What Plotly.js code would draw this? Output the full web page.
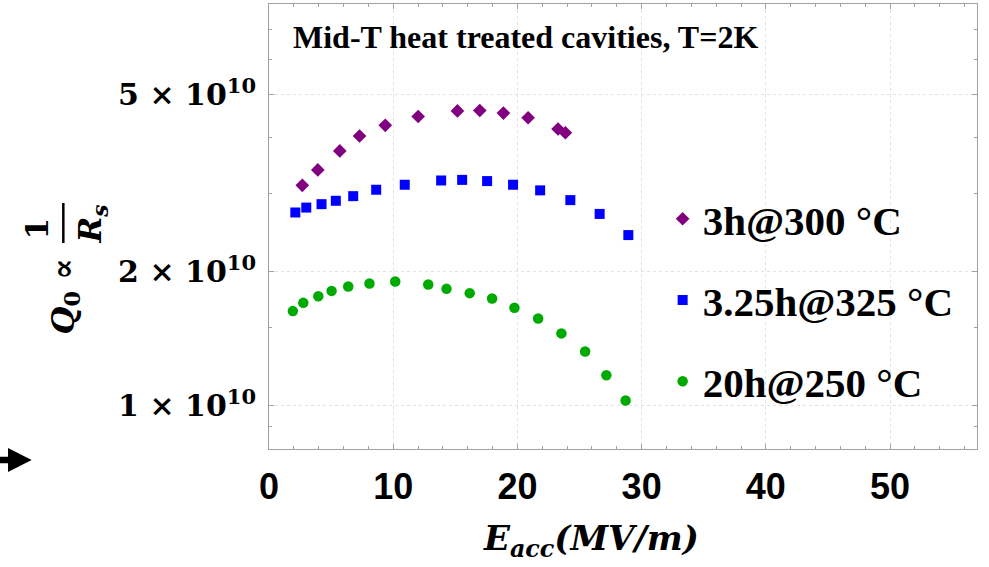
<!DOCTYPE html>
<html>
<head>
<meta charset="utf-8">
<script src="https://cdn.plot.ly/plotly-3.0.1.min.js"></script>
<style>html,body{margin:0;padding:0;background:#fff;}#chart{width:989px;height:567px;}</style>
</head>
<body>
<div id="chart"></div>
<script>
// Data
const seriesNames = ["3h@300 °C", "3.25h@325 °C", "20h@250 °C"];

const eacc300 = [2.68, 3.93, 5.70, 7.29, 9.36, 12.01, 15.17, 16.97, 18.87, 20.86, 23.27, 23.86];
const q300 = [3.13e10, 3.39e10, 3.74e10, 4.04e10, 4.27e10, 4.47e10, 4.60e10, 4.61e10, 4.55e10, 4.44e10, 4.19e10, 4.11e10];

const eacc325 = [2.12, 3.00, 4.23, 5.38, 6.78, 8.63, 10.93, 13.86, 15.55, 17.56, 19.65, 21.83, 24.26, 26.62, 28.93];
const q325 = [2.72e10, 2.79e10, 2.84e10, 2.89e10, 2.96e10, 3.06e10, 3.14e10, 3.21e10, 3.22e10, 3.20e10, 3.14e10, 3.05e10, 2.90e10, 2.70e10, 2.42e10];

const eacc250 = [1.92, 2.76, 3.97, 5.04, 6.38, 8.09, 10.16, 12.82, 14.29, 16.16, 17.96, 19.76, 21.67, 23.54, 25.45, 27.16, 28.71];
const q250 = [1.633e10, 1.704e10, 1.764e10, 1.813e10, 1.855e10, 1.884e10, 1.904e10, 1.874e10, 1.832e10, 1.792e10, 1.743e10, 1.661e10, 1.572e10, 1.455e10, 1.325e10, 1.172e10, 1.028e10];

const xTickVals = [0, 10, 20, 30, 40, 50];
const xTickText = ["0", "10", "20", "30", "40", "50"];
const yTickVals = [1e10, 2e10, 5e10];
const yTickText = ["1 × 10<sup>10</sup>", "2 × 10<sup>10</sup>", "5 × 10<sup>10</sup>"];
const yMinorVals = [9e9, 1.5e10, 3e10, 4e10, 6e10, 7e10];

const chartTitle = "Mid-T heat treated cavities, T=2K";

const serif = "'Liberation Serif', 'Times New Roman', serif";
const mathSerif = "'DejaVu Serif', serif";

const traces = [
  {x: eacc300, y: q300, name: seriesNames[0], legendgroup: "a", type: "scatter", mode: "markers",
   marker: {symbol: "diamond", size: 10.5, color: "#800080"}},
  {x: eacc325, y: q325, name: seriesNames[1], legendgroup: "b", type: "scatter", mode: "markers",
   marker: {symbol: "square", size: 10, color: "#0000ff"}},
  {x: eacc250, y: q250, name: seriesNames[2], legendgroup: "c", type: "scatter", mode: "markers",
   marker: {symbol: "circle", size: 10.5, color: "#00aa00"}}
];

const frameColor = "#a0a0a0";

const layout = {
  width: 989, height: 567,
  margin: {l: 269, r: 12, t: 4, b: 118, pad: 0},
  paper_bgcolor: "#ffffff", plot_bgcolor: "#ffffff",
  showlegend: true,
  legend: {
    x: 0.556, y: 0.592, xanchor: "left", yanchor: "top",
    font: {family: serif, size: 41, color: "#000", weight: "bold"},
    tracegroupgap: 25, bgcolor: "rgba(0,0,0,0)", itemsizing: "trace"
  },
  xaxis: {
    range: [0, 57], showline: true, linecolor: frameColor, linewidth: 1, mirror: "allticks",
    ticks: "inside", ticklen: 5, tickcolor: frameColor, tickwidth: 1,
    tickmode: "array", tickvals: xTickVals, ticktext: xTickText,
    ticklabelstandoff: 6,
    tickfont: {family: "'Liberation Sans', Arial, sans-serif", size: 36, color: "#000", weight: "bold"},
    showgrid: true, gridcolor: "#e2e2e2", griddash: "dot", gridwidth: 1, zeroline: false,
    minor: {dtick: 2, ticks: "inside", ticklen: 3, tickcolor: frameColor, showgrid: false}
  },
  yaxis: {
    type: "log", range: [Math.log10(8e9), Math.log10(8e10)],
    showline: true, linecolor: frameColor, linewidth: 1, mirror: "allticks",
    ticks: "inside", ticklen: 5, tickcolor: frameColor, tickwidth: 1,
    tickmode: "array", tickvals: yTickVals, ticktext: yTickText,
    ticklabelstandoff: 6,
    tickfont: {family: mathSerif, size: 30, color: "#000", weight: "bold"},
    showgrid: true, gridcolor: "#e2e2e2", griddash: "dot", gridwidth: 1, zeroline: false,
    minor: {tickmode: "array", tickvals: yMinorVals, ticks: "inside", ticklen: 3, tickcolor: frameColor, showgrid: false}
  },
  annotations: [
    {text: "<b>" + chartTitle + "</b>", xref: "paper", yref: "paper", x: 0.031, y: 0.926,
     xanchor: "left", yanchor: "middle", showarrow: false,
     font: {family: serif, size: 32, color: "#000"}},
    {text: "<b><i>E<sub>acc</sub>(MV/m)</i></b>", xref: "paper", yref: "paper", x: 0.455, y: -0.205,
     xanchor: "center", yanchor: "middle", showarrow: false,
     font: {family: mathSerif, size: 34, color: "#000"}},
    {text: "<b><i>Q</i><sub>0</sub> ∝</b>", xref: "paper", yref: "paper", x: -0.288, y: 0.343,
     xanchor: "center", yanchor: "middle", textangle: -90, showarrow: false,
     font: {family: mathSerif, size: 32, color: "#000"}},
    {text: "<b>1</b>", xref: "paper", yref: "paper", x: -0.327, y: 0.4966,
     xanchor: "center", yanchor: "middle", textangle: -90, showarrow: false,
     font: {family: mathSerif, size: 31, color: "#000"}},
    {text: "<b><i>R<sub>s</sub></i></b>", xref: "paper", yref: "paper", x: -0.2493, y: 0.5056,
     xanchor: "center", yanchor: "middle", textangle: -90, showarrow: false,
     font: {family: mathSerif, size: 31, color: "#000"}}
  ],
  shapes: [
    {type: "line", xref: "paper", yref: "paper", x0: -0.2905, x1: -0.2905, y0: 0.4629, y1: 0.5528,
     line: {color: "#000", width: 2.5}},
    {type: "path", xref: "paper", yref: "paper",
     path: "M -0.385,-0.0173 L -0.3686,-0.0173 L -0.3686,0.00225 L -0.3352,-0.0247 L -0.3686,-0.0517 L -0.3686,-0.0321 L -0.385,-0.0321 Z",
     fillcolor: "#000", line: {color: "#000", width: 0}}
  ]
};

Plotly.newPlot("chart", traces, layout, {displayModeBar: false, staticPlot: true});
</script>
</body>
</html>
